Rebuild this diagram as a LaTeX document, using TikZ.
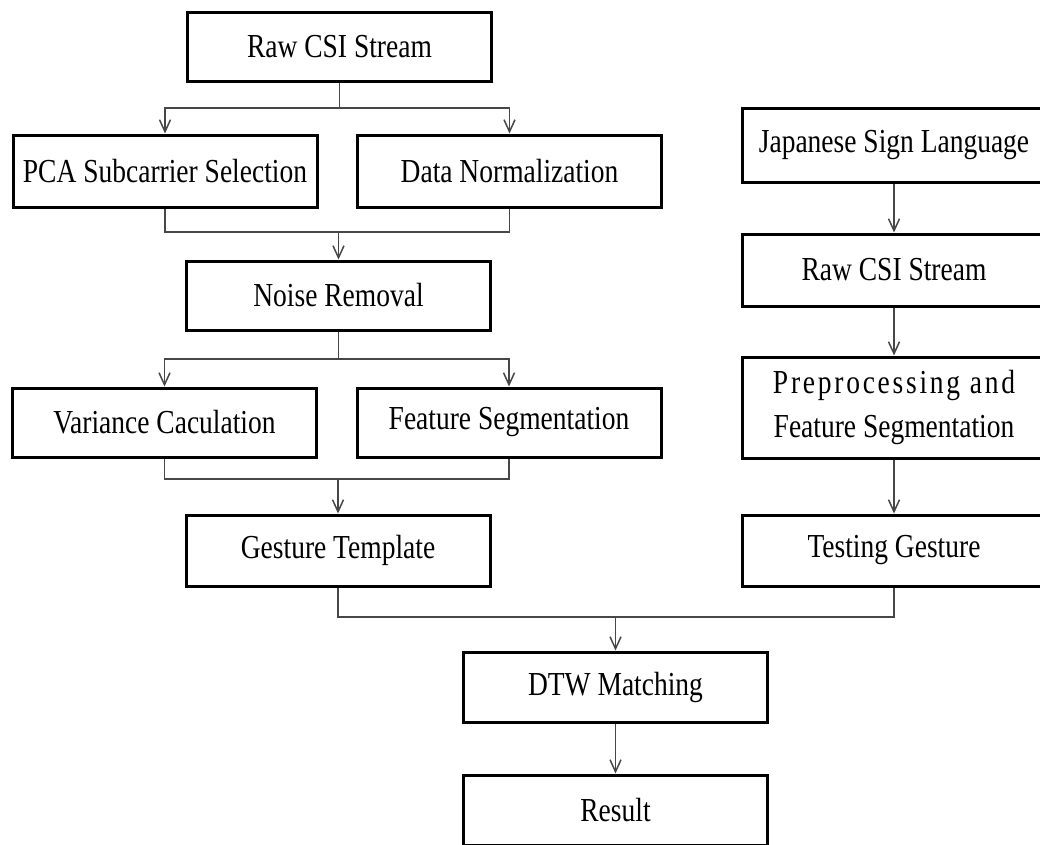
\documentclass[tikz,border=0pt]{standalone}
\usepackage{graphicx}
\usepackage{fontspec}
\setmainfont{Liberation Serif}
\newfontfamily\spacedfont[LetterSpace=10]{Liberation Serif}
\newcommand{\tallt}[1]{\scalebox{1}[1.22]{#1}}
\usetikzlibrary{arrows.meta}
\begin{document}
\begin{tikzpicture}[x=1pt,y=-1pt,
  box/.style={draw=black,line width=3pt,fill=white,rectangle,minimum width=304pt,
    minimum height=70pt,inner sep=0pt,align=center,
    font=\fontsize{27.5}{38}\selectfont},
  conn/.style={draw=black!72,line width=1.5pt},
  arr/.style={conn,-{Straight Barb[length=12pt,width=11pt]}}]
\useasboundingbox (0,0) rectangle (1040,844);
\clip (0,0) rectangle (1040,844);
% left column
\node[box,minimum height=69pt] (raw1) at (339.5,46.5) {\tallt{Raw CSI Stream}};
\node[box,minimum height=72pt] (pca) at (165,171) {\tallt{PCA Subcarrier Selection}};
\node[box,minimum height=72pt] (dn) at (509.5,171) {\tallt{Data Normalization}};
\node[box,minimum height=69pt] (noise) at (338.5,295.5) {\tallt{Noise Removal}};
\node[box,minimum height=69pt] (var) at (164.5,422.5) {\tallt{Variance Caculation}};
\node[box,minimum height=69pt] (fs) at (509,422.5) {\tallt{Feature Segmentation}};
\node[box,minimum height=71pt] (gest) at (338,550.5) {\tallt{Gesture Template}};
% right column
\node[box,minimum height=74pt] (jsl) at (894,145) {\tallt{Japanese Sign Language}};
\node[box,minimum height=72pt] (raw2) at (894,270) {\tallt{Raw CSI Stream}};
\node[box,minimum height=101pt] (prep) at (894,407.5) {\tallt{\spacedfont Preprocessing and}\\[6pt]\tallt{Feature Segmentation}};
\node[box,minimum height=71pt] (test) at (894,550.5) {\tallt{Testing Gesture}};
% bottom
\node[box] (dtw) at (615.5,687) {\tallt{DTW Matching}};
\node[box] (res) at (615.5,810) {\tallt{Result}};
% junctions
\coordinate (j1) at (339.5,108);
\coordinate (j2) at (338.5,232);
\coordinate (j3) at (338.5,359);
\coordinate (j4) at (338,479);
\coordinate (j5) at (615.5,617);
% connectors
\draw[conn] (raw1.south) -- (j1);
\draw[arr] (j1) -| (pca.north);
\draw[arr] (j1) -| (dn.north);
\draw[conn] (pca.south) |- (j2) -| (dn.south);
\draw[arr] (j2) -- (noise.north);
\draw[conn] (noise.south) -- (j3);
\draw[arr] (j3) -| (var.north);
\draw[arr] (j3) -| (fs.north);
\draw[conn] (var.south) |- (j4) -| (fs.south);
\draw[arr] (j4) -- (gest.north);
\draw[conn] (gest.south) |- (j5) -| (test.south);
\draw[arr] (j5) -- (dtw.north);
\draw[arr] (dtw.south) -- (res.north);
\draw[arr] (jsl.south) -- (raw2.north);
\draw[arr] (raw2.south) -- (prep.north);
\draw[arr] (prep.south) -- (test.north);
\end{tikzpicture}
\end{document}
